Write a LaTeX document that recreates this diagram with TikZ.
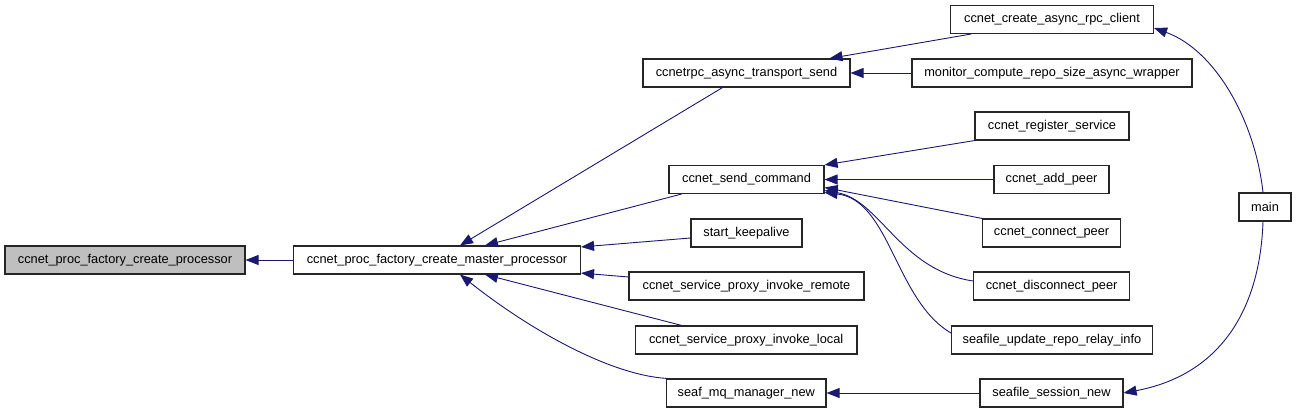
\documentclass[tikz,border=0pt]{standalone}
\usepackage{fontspec}
\setmainfont{Liberation Sans}
\usetikzlibrary{arrows.meta}
\definecolor{edgeblue}{HTML}{191970}
\definecolor{boxgray}{HTML}{BFBFBF}
\begin{document}
\begin{tikzpicture}[x=1pt,y=-1pt,
  fn/.style={draw=black!85,line width=1.1pt,fill=white,minimum height=28pt,inner sep=0pt,font=\fontsize{12.8}{14}\selectfont},
  cur/.style={fn,fill=boxgray},
  call/.style={draw=edgeblue,line width=0.9pt,-{Triangle[length=13pt,width=10pt,fill=edgeblue]}}]
\useasboundingbox (0,0) rectangle (1296,413);
\node[cur,minimum width=240pt] (A) at (125,260) {ccnet\_proc\_factory\_create\_processor};
\node[fn,minimum width=287pt] (B) at (437,260) {ccnet\_proc\_factory\_create\_master\_processor};
\node[fn,minimum width=207pt] (T) at (746.5,73) {ccnetrpc\_async\_transport\_send};
\node[fn,minimum width=203pt] (C1) at (1052,19.5) {ccnet\_create\_async\_rpc\_client};
\node[fn,minimum width=280pt] (M) at (1052,73) {monitor\_compute\_repo\_size\_async\_wrapper};
\node[fn,minimum width=154pt] (R) at (1052,126) {ccnet\_register\_service};
\node[fn,minimum width=155pt] (S) at (746.5,179.5) {ccnet\_send\_command};
\node[fn,minimum width=115pt] (AP) at (1051.5,179.5) {ccnet\_add\_peer};
\node[fn,minimum width=52pt] (main) at (1265,207) {main};
\node[fn,minimum width=111pt] (K) at (746.5,233) {start\_keepalive};
\node[fn,minimum width=138pt] (CP) at (1051.6,233) {ccnet\_connect\_peer};
\node[fn,minimum width=235pt] (REM) at (746.5,286) {ccnet\_service\_proxy\_invoke\_remote};
\node[fn,minimum width=156pt] (DP) at (1051.6,286) {ccnet\_disconnect\_peer};
\node[fn,minimum width=221.5pt] (LOC) at (746.2,340) {ccnet\_service\_proxy\_invoke\_local};
\node[fn,minimum width=201pt] (RI) at (1052,340) {seafile\_update\_repo\_relay\_info};
\node[fn,minimum width=159.4pt] (MQ) at (746.3,393) {seaf\_mq\_manager\_new};
\node[fn,minimum width=143pt] (SN) at (1051.5,393) {seafile\_session\_new};

\draw[call] (B.west) -- (A.east);
\draw[call] ([xshift=-24pt]T.south) -- ([xshift=23pt]B.north);
\draw[call] ([xshift=-65pt]S.south) -- ([xshift=48pt]B.north);
\draw[call] ([yshift=-5pt]K.west) -- ([yshift=-1.5pt]B.north east);
\draw[call] ([yshift=9pt]REM.west) -- ([yshift=1.5pt]B.south east);
\draw[call] ([xshift=-64.5pt]LOC.north) -- ([xshift=48pt]B.south);
\draw[call] ([xshift=1pt]MQ.north west) .. controls (610,375) and (530,330) .. ([xshift=23pt]B.south);
\draw[call] ([xshift=-81pt]C1.south) -- ([xshift=83pt]T.north);
\draw[call] (M.west) -- (T.east);
\draw[call] (R.south west) -- (S.north east);
\draw[call] (AP.west) -- (S.east);
\draw[call] (CP.north west) -- ([yshift=-8pt]S.east);
\draw[call] ([yshift=5pt]DP.west) .. controls (900,270) and (880,200) .. ([yshift=-11pt]S.east);
\draw[call] ([yshift=7pt]RI.west) .. controls (895,300) and (890,200) .. ([yshift=-13pt]S.east);
\draw[call] ([xshift=-2pt]main.north) .. controls (1255,120) and (1215,50) .. ([yshift=-8.5pt]C1.east);
\draw[call] ([xshift=-2pt]main.south) .. controls (1260,310) and (1220,375) .. (SN.east);
\draw[call] (SN.west) -- (MQ.east);
\end{tikzpicture}
\end{document}
